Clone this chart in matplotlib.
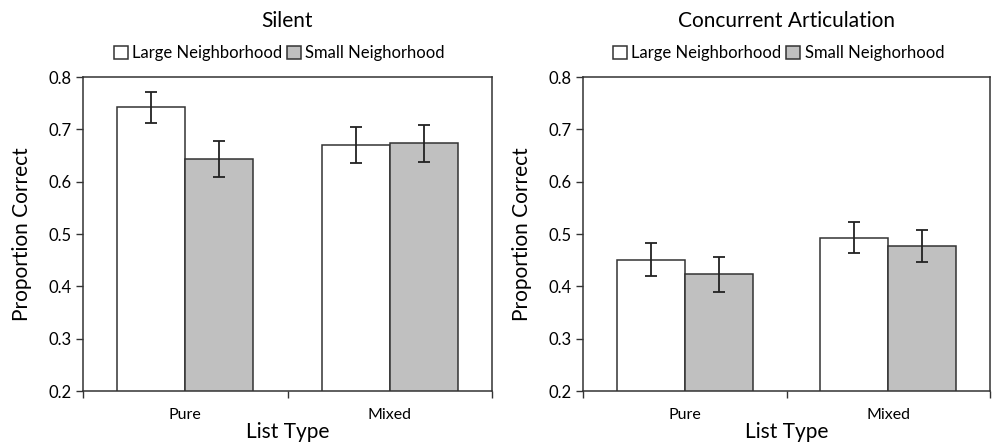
import matplotlib
matplotlib.use("Agg")
import matplotlib.pyplot as plt
import numpy as np

plt.rcParams['font.family'] = ['Lato', 'DejaVu Sans']

categories = ["Pure", "Mixed"]
series_names = ["Large Neighborhood", "Small Neighorhood"]
titles = ["Silent", "Concurrent Articulation"]

silent_large = [0.742, 0.670]
silent_small = [0.643, 0.673]
silent_large_err = [0.030, 0.034]
silent_small_err = [0.035, 0.035]

concurrent_large = [0.451, 0.493]
concurrent_small = [0.423, 0.477]
concurrent_large_err = [0.032, 0.029]
concurrent_small_err = [0.034, 0.030]

yticks = [0.2, 0.3, 0.4, 0.5, 0.6, 0.7, 0.8]

fig = plt.figure(figsize=(9.93, 4.48), dpi=100)
W, H = 993, 448
axes_px = [(83, 492), (583, 990)]
top_px, bot_px = 77, 391

panels = [
    (silent_large, silent_small, silent_large_err, silent_small_err),
    (concurrent_large, concurrent_small, concurrent_large_err, concurrent_small_err),
]

edge = '#333333'
for i, (l, r) in enumerate(axes_px):
    ax = fig.add_axes([l / W, 1 - bot_px / H, (r - l) / W, (bot_px - top_px) / H])
    large, small, lerr, serr = panels[i]
    x = np.arange(len(categories))
    w = 1 / 3
    ax.bar(x - w / 2, large, w, color='white', edgecolor=edge, linewidth=1.1,
           label=series_names[0], zorder=2)
    ax.bar(x + w / 2, small, w, color='#c0c0c0', edgecolor=edge, linewidth=1.1,
           label=series_names[1], zorder=2)
    ax.errorbar(x - w / 2, large, yerr=lerr, fmt='none', ecolor='#222222',
                elinewidth=1.3, capsize=4, capthick=1.3, zorder=3)
    ax.errorbar(x + w / 2, small, yerr=serr, fmt='none', ecolor='#222222',
                elinewidth=1.3, capsize=4, capthick=1.3, zorder=3)
    ax.set_xlim(-0.5, len(categories) - 0.5)
    ax.set_ylim(0.2, 0.8)
    ax.set_yticks(yticks)
    ax.set_yticklabels([f"{t:.1f}" for t in yticks])
    ax.tick_params(axis='y', direction='out', length=5, width=1, color=edge,
                   labelsize=12, pad=3)
    ax.set_xticks([-0.5, 0.5, 1.5])
    ax.set_xticklabels([])
    ax.tick_params(axis='x', which='major', direction='out', length=5, width=1, color=edge)
    ax.set_xticks(x, minor=True)
    ax.set_xticklabels(categories, minor=True)
    ax.tick_params(axis='x', which='minor', length=0, labelsize=11.5, pad=12)
    for s in ax.spines.values():
        s.set_color(edge)
        s.set_linewidth(1.1)
    ax.set_ylabel("Proportion Correct", fontsize=15)
    ax.yaxis.set_label_coords(-0.125, 0.5)
    ax.set_xlabel("List Type", fontsize=15)
    ax.xaxis.set_label_coords(0.5, -0.1)
    ax.text(0.5, 1.178, titles[i], transform=ax.transAxes, ha='center',
            va='center', fontsize=15)
    ax.legend(loc='center', bbox_to_anchor=(0.48, 1.076), ncol=2, frameon=False,
              fontsize=12, handlelength=0.85, handleheight=0.85,
              handletextpad=0.25, columnspacing=0.3, borderaxespad=0,
              borderpad=0)

fig.savefig("out.png", dpi=100)
